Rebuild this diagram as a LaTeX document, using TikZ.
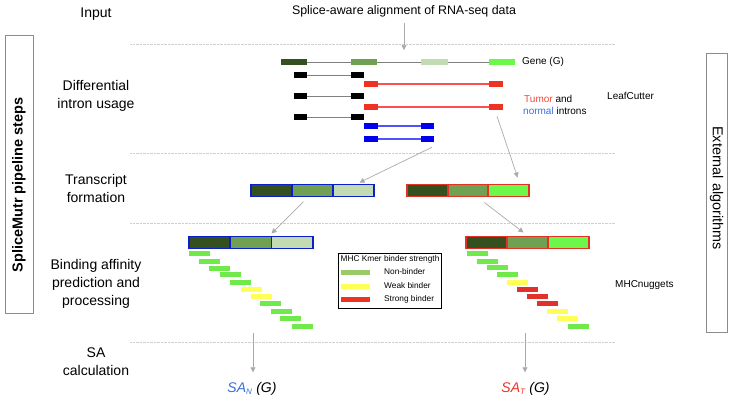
\documentclass[tikz,border=0pt]{standalone}
\usepackage{fontspec}
\setmainfont{Liberation Sans}
\usetikzlibrary{arrows.meta,calc}
\definecolor{gA}{HTML}{34501F}
\definecolor{gB}{HTML}{70A052}
\definecolor{gC}{HTML}{C2DBB3}
\definecolor{gD}{HTML}{6CF84A}
\definecolor{pepG}{HTML}{6FEA4A}
\definecolor{pepY}{HTML}{FFFF55}
\definecolor{pepR}{HTML}{E2302A}
\definecolor{legG}{HTML}{99CC66}
\definecolor{exR}{HTML}{EE3322}
\definecolor{lnR}{HTML}{FF5050}
\definecolor{exB}{HTML}{0000EE}
\definecolor{lnB}{HTML}{5050FF}
\definecolor{trB}{HTML}{0A1FC8}
\definecolor{trR}{HTML}{E03325}
\definecolor{txR}{HTML}{F24A3E}
\definecolor{txB}{HTML}{3A6FD8}
\definecolor{arrgray}{HTML}{AAAAAA}
\definecolor{sepgray}{HTML}{CFCFCF}
\begin{document}
\begin{tikzpicture}[x=1pt,y=-1pt,
  lab/.style={font=\fontsize{14}{18}\selectfont, align=center, inner sep=0},
  small/.style={font=\fontsize{10}{12}\selectfont, inner sep=0, anchor=west},
  leg/.style={font=\fontsize{8.3}{10}\selectfont, inner sep=0, anchor=west},
  ex/.style={minimum width=#1, minimum height=6.5pt, inner sep=0, outer sep=0, anchor=west, draw=none},
  tr/.style={minimum width=#1, minimum height=12pt, inner sep=0, outer sep=0, anchor=west, line width=1.7pt},
  pep/.style={minimum width=21pt, minimum height=5pt, inner sep=0, outer sep=0, anchor=west, fill=#1},
  sw/.style={minimum width=29pt, minimum height=5pt, inner sep=0, anchor=west, fill=#1},
  arr/.style={draw=arrgray, line width=0.7pt, -{Triangle[width=5pt,length=5pt]}},
  sepline/.style={draw=sepgray, line width=0.4pt, densely dotted},
  grayln/.style={draw=black!50, line width=1pt},
  redln/.style={draw=lnR, line width=1.2pt},
  blueln/.style={draw=lnB, line width=1.2pt},
  sidebox/.style={draw=black!45, line width=0.6pt, inner sep=0},
]
\useasboundingbox (0,0) rectangle (732,402);

% separators
\foreach \yy in {44,153,223,342} \draw[sepline] (130,\yy) -- (615,\yy);

% side boxes
\node[sidebox, minimum width=28pt, minimum height=278pt] (lbox) at (19,174) {};
\node[inner sep=0, rotate=90, font=\fontsize{14.5}{16}\selectfont\bfseries] (ltext) at (19,185) {SpliceMutr pipeline steps};
\node[sidebox, minimum width=21pt, minimum height=279pt] (rbox) at (716.5,192.5) {};
\node[inner sep=0, rotate=-90, font=\fontsize{14.4}{16}\selectfont] (rtext) at (716.5,188) {External algorithms};

% left labels
\node[lab] (l1) at (96,14) {Input};
\node[lab] (l2) at (96,96) {Differential\\intron usage};
\node[lab] (l3) at (96,188.5) {Transcript\\formation};
\node[lab] (l4) at (96,284) {Binding affinity\\prediction and\\processing};
\node[lab] (l5) at (96,362) {SA\\calculation};

% input
\node[inner sep=0, font=\fontsize{12.4}{14}\selectfont] (splice) at (404,11) {Splice-aware alignment of RNA-seq data};
\coordinate (inarr) at (404,50);
\draw[arr] ([yshift=-6pt]splice.south) -- (inarr);

% gene
\node[ex=26pt, fill=gA] (g1) at (281,62) {};
\node[ex=26pt, fill=gB] (g2) at (351,62) {};
\node[ex=27pt, fill=gC] (g3) at (421,62) {};
\node[ex=26pt, fill=gD] (g4) at (489,62) {};
\draw[grayln] (g1.east) -- (g2.west) (g2.east) -- (g3.west) (g3.east) -- (g4.west);
\node[small] (gene) at (522,62) {Gene (G)};

% intron rows
\foreach \n/\yy in {a/75,c/96,e/117}{
  \node[ex=13pt, fill=black] (k\n1) at (294,\yy) {};
  \node[ex=13pt, fill=black] (k\n2) at (351,\yy) {};
  \draw[grayln] (k\n1.east) -- (k\n2.west);
}
\foreach \n/\yy in {b/84,d/107}{
  \node[ex=14pt, fill=exR] (r\n1) at (364,\yy) {};
  \node[ex=14pt, fill=exR] (r\n2) at (489,\yy) {};
  \draw[redln] (r\n1.east) -- (r\n2.west);
}
\foreach \n/\yy in {f/126,g/139}{
  \node[ex=14pt, fill=exB] (b\n1) at (364,\yy) {};
  \node[ex=13pt, fill=exB] (b\n2) at (421,\yy) {};
  \draw[blueln] (b\n1.east) -- (b\n2.west);
}
\node[small] (tum) at (524,99) {\textcolor{txR}{Tumor} and};
\node[small] (nor) at (523,111) {\textcolor{txB}{normal} introns};
\node[small] (leaf) at (607,96) {LeafCutter};

% transcripts
\node[tr=41pt, draw=trB, fill=gA] (t1a) at (251,190.5) {};
\node[tr=41pt, draw=trB, fill=gB] (t1b) at (292,190.5) {};
\node[tr=41pt, draw=trB, fill=gC] (t1c) at (333,190.5) {};
\node[tr=40.7pt, draw=trR, fill=gA] (t2a) at (407,190.5) {};
\node[tr=40.7pt, draw=trR, fill=gB] (t2b) at (447.7,190.5) {};
\node[tr=40.7pt, draw=trR, fill=gD] (t2c) at (488.3,190.5) {};

\draw[arr] ([shift={(-2pt,-5pt)}]bg2.south east) -- ([shift={(6pt,2pt)}]t1c.north);
\draw[arr] ([shift={(-6pt,-6pt)}]rd2.south east) -- ([shift={(9pt,7pt)}]t2c.north);

% second-level transcripts
\node[tr=41.3pt, draw=trB, fill=gA] (s1a) at (189,242.5) {};
\node[tr=41.3pt, draw=trB, fill=gB] (s1b) at (230.3,242.5) {};
\node[tr=41.3pt, draw=trB, fill=gC] (s1c) at (271.6,242.5) {};
\node[tr=41pt, draw=trR, fill=gA] (s2a) at (466,242.5) {};
\node[tr=41pt, draw=trR, fill=gB] (s2b) at (507,242.5) {};
\node[tr=41pt, draw=trR, fill=gD] (s2c) at (548,242.5) {};

\draw[arr] ([shift={(-9pt,-5pt)}]t1b.south) -- ([yshift=3pt]s1b.north east);
\draw[arr] ([shift={(-4pt,-6pt)}]t2b.south east) -- ([shift={(-4pt,4pt)}]s2b.north);

% peptides left
\foreach \i/\xx/\yy/\c in {1/189/253/pepG,2/199/261/pepG,3/209/268/pepG,4/220/274/pepG,5/230/282/pepG,6/241/289/pepY,7/251/296/pepY,8/260/303/pepG,9/271/311/pepG,10/280/318/pepG,11/292/326/pepG}
  \node[pep=\c] (pl\i) at (\xx,\yy) {};
% peptides right
\foreach \i/\xx/\yy/\c in {1/467/253/pepG,2/477/261/pepG,3/487/267/pepG,4/497/274/pepG,5/507/282/pepY,6/517/289/pepR,7/527/296/pepR,8/537/303/pepR,9/547/311/pepY,10/557/318/pepY,11/568/326/pepG}
  \node[pep=\c] (pr\i) at (\xx,\yy) {};

% legend
\node[draw=black, line width=0.6pt, minimum width=103pt, minimum height=55pt, inner sep=0] (legbox) at (389.5,280.5) {};
\node[leg] (legt) at (340.5,259) {MHC Kmer binder strength};
\node[sw=legG] (sw1) at (341,272) {};
\node[sw=pepY] (sw2) at (341,286) {};
\node[sw=exR] (sw3) at (341,299) {};
\node[leg] (lg1) at (384,272) {Non-binder};
\node[leg] (lg2) at (384,286) {Weak binder};
\node[leg] (lg3) at (384,299) {Strong binder};

\node[small] (mhc) at (615,285) {MHCnuggets};

% SA
\node[inner sep=0, font=\fontsize{14}{16}\selectfont\itshape] (san) at (252,389) {\textcolor{txB}{SA\textsubscript{\fontsize{8}{9}\selectfont N}} (G)};
\node[inner sep=0, font=\fontsize{14}{16}\selectfont\itshape] (sat) at (525.5,389) {\textcolor{exR}{SA\textsubscript{\fontsize{8}{9}\selectfont T}} (G)};
\coordinate (an) at (253,333);
\coordinate (at) at (525,333);
\draw[arr] (an) -- ([yshift=10pt]san.north -| an);
\draw[arr] (at) -- ([yshift=10pt]sat.north -| at);
\end{tikzpicture}
\end{document}
